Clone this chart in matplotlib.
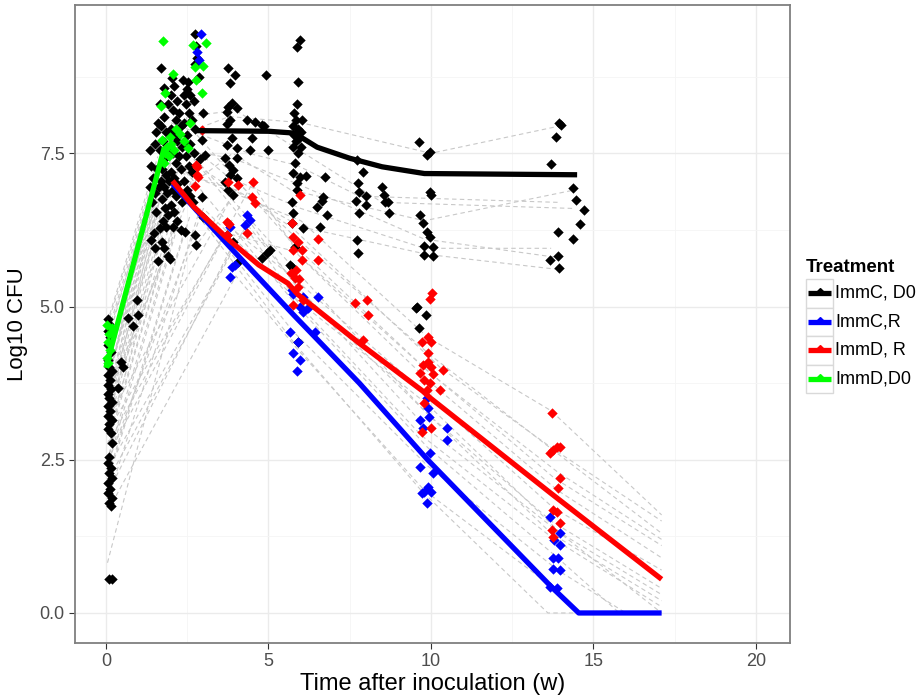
import matplotlib.pyplot as plt
from matplotlib.lines import Line2D
from matplotlib.patches import Rectangle

plt.rcParams['font.family'] = ['Liberation Sans', 'DejaVu Sans']

# --- observed points (time in weeks, log10 CFU) ---
immc_d0_pts = [
    # week 0
    (0.05, 4.8), (0.1, 4.72), (0.05, 4.6), (0.12, 4.5), (0.08, 4.38), (0.15, 4.25), (0.05, 4.12),
    (0.1, 4.02), (0.2, 3.95), (0.05, 3.88), (0.12, 3.8), (0.08, 3.72), (0.15, 3.65), (0.05, 3.58),
    (0.1, 3.5), (0.18, 3.45), (0.05, 3.38), (0.12, 3.3), (0.08, 3.22), (0.2, 3.15), (0.1, 3.08),
    (0.05, 3.0), (0.15, 2.93), (0.2, 2.78), (0.1, 2.55), (0.05, 2.45), (0.15, 2.37), (0.1, 2.28),
    (0.2, 2.2), (0.05, 2.12), (0.12, 2.03), (0.08, 1.95), (0.2, 1.88), (0.1, 1.8), (0.15, 1.74),
    (0.1, 0.55), (0.2, 0.55),
    (0.52, 4.01), (0.37, 3.67), (0.95, 5.1), (0.68, 4.81), (1.0, 4.86), (0.83, 4.68), (0.45, 4.1),
    # weeks 1.3 - 3
    (1.35, 7.55), (1.4, 7.3), (1.45, 7.1), (1.35, 6.95), (1.5, 6.85), (1.42, 6.7), (1.55, 6.55),
    (1.48, 6.2), (1.38, 6.08), (1.52, 5.95), (1.6, 5.75), (1.55, 7.85), (1.6, 8.0), (1.5, 7.65),
    (1.58, 7.25), (1.62, 6.95),
    (1.7, 8.9), (1.8, 8.56), (1.65, 8.3), (1.8, 8.1), (1.7, 7.95), (1.85, 7.85), (1.75, 7.7),
    (1.68, 7.55), (1.8, 7.4), (1.72, 7.25), (1.85, 7.15), (1.7, 7.05), (1.78, 6.95), (1.88, 6.85),
    (1.72, 6.75), (1.82, 6.6), (1.9, 6.5), (1.75, 6.4), (1.85, 6.3), (1.72, 6.05), (1.8, 5.95),
    (1.9, 5.82), (1.97, 5.78), (1.66, 6.28),
    (2.03, 8.73), (2.0, 8.45), (2.1, 8.6), (2.2, 8.35), (2.05, 8.2), (2.15, 8.05), (2.25, 8.15),
    (2.0, 7.9), (2.1, 7.8), (2.2, 7.7), (2.3, 7.95), (2.05, 7.5), (2.15, 7.35), (2.25, 7.45),
    (2.0, 7.2), (2.1, 7.1), (2.2, 7.0), (2.05, 6.9), (2.15, 6.8), (2.0, 6.65), (2.1, 6.55),
    (2.2, 6.4), (2.05, 6.3), (2.3, 6.25), (2.37, 8.69), (2.52, 8.66),
    (2.5, 8.55), (2.6, 8.45), (2.45, 8.3), (2.7, 8.35), (2.55, 8.15), (2.65, 8.05), (2.4, 8.0),
    (2.75, 7.9), (2.5, 7.8), (2.6, 7.65), (2.7, 7.5), (2.45, 7.45), (2.55, 7.3), (2.65, 7.2),
    (2.4, 7.05), (2.5, 6.9), (2.6, 6.8), (2.43, 6.22), (2.74, 6.17), (2.77, 6.0), (2.74, 9.44),
    (2.77, 9.25), (2.8, 9.05), (2.74, 8.95), (2.85, 8.75), (2.9, 7.4), (2.95, 7.72), (2.98, 8.15),
    (3.05, 7.47), (2.95, 6.79), (2.68, 6.7), (2.98, 6.46),
    (1.95, 7.6), (2.35, 7.6), (2.3, 7.25), (1.95, 7.05), (2.35, 6.7), (1.9, 8.3), (2.4, 8.45),
    # weeks 3.5 - 5
    (3.75, 8.9), (3.97, 8.78), (3.82, 8.64), (4.92, 8.78), (3.88, 8.32), (3.75, 8.25), (4.02, 8.24),
    (3.72, 8.17), (3.82, 8.04), (4.33, 8.04), (4.58, 8.01), (4.8, 7.96), (3.72, 7.98), (3.88, 7.75),
    (4.49, 7.75), (3.72, 7.63), (4.02, 7.58), (4.43, 7.55), (4.98, 7.55), (3.66, 7.42), (4.02, 7.42),
    (3.78, 7.31), (3.9, 7.23), (3.82, 7.14), (4.02, 7.1), (3.66, 7.03), (3.75, 6.9), (3.9, 6.82),
    (3.72, 6.17), (3.9, 6.05), (4.06, 5.73), (5.05, 5.92), (4.95, 5.87), (4.8, 5.79), (4.86, 7.94),
    # weeks 5.6 - 7
    (5.97, 9.35), (5.88, 9.23), (5.91, 8.66), (5.88, 8.3), (5.8, 8.15), (5.85, 8.05), (6.03, 8.04),
    (5.75, 7.95), (5.9, 7.9), (6.0, 7.85), (5.8, 7.8), (5.95, 7.75), (5.85, 7.7), (5.75, 7.6),
    (6.0, 7.6), (5.9, 7.5), (5.82, 7.34), (5.75, 7.18), (5.97, 7.11), (5.88, 7.01), (5.88, 6.9),
    (5.72, 6.7), (5.75, 6.53), (5.72, 6.36), (6.06, 6.28), (5.82, 5.97), (5.72, 5.65), (5.66, 5.68),
    (5.9, 4.42), (6.15, 7.13),
    (6.74, 7.11), (6.68, 6.79), (6.49, 6.62), (6.8, 6.49), (6.65, 6.73), (6.6, 6.3),
    # weeks 7.5 - 9
    (7.72, 7.39), (7.9, 7.2), (7.75, 7.02), (7.8, 6.87), (8.0, 6.8), (7.7, 6.73), (8.0, 6.66),
    (7.8, 6.52), (7.72, 6.08), (7.75, 5.87), (8.5, 6.95), (8.55, 6.82), (8.67, 6.71), (8.7, 6.52),
    (8.6, 6.71),
    # week 10
    (9.63, 7.69), (9.87, 7.47), (9.97, 7.52), (9.97, 6.87), (10.0, 6.82), (9.66, 6.5), (9.76, 6.37),
    (9.87, 6.22), (9.97, 6.14), (9.8, 5.98), (10.05, 5.97), (9.8, 5.84), (10.05, 5.82),
    (9.57, 5.0), (9.55, 4.97), (9.85, 4.86), (9.63, 4.65),
    # week 14
    (13.85, 7.77), (13.95, 8.0), (14.0, 7.97), (13.7, 7.32), (14.37, 6.94), (14.46, 6.74),
    (14.7, 6.57), (14.6, 6.35), (14.37, 6.1), (13.9, 6.21), (13.66, 5.76), (13.9, 5.82), (13.95, 5.63),
]

immc_r_pts = [
    (2.92, 9.44), (2.8, 9.15), (2.86, 9.02),
    (4.33, 6.49), (4.43, 6.41), (4.28, 6.33), (3.82, 6.3), (3.88, 5.65), (3.82, 5.49), (3.97, 5.68),
    (5.72, 5.27), (6.06, 5.16), (5.75, 5.2), (5.97, 5.0), (6.22, 4.97), (6.52, 5.16), (5.66, 4.58),
    (5.9, 4.42), (5.75, 4.24), (5.97, 4.13), (5.88, 3.95), (6.43, 4.58), (6.06, 4.91),
    (9.66, 3.15), (9.76, 3.02), (9.9, 3.34), (9.94, 3.2), (10.5, 3.02), (10.5, 2.82), (9.97, 2.61),
    (9.66, 2.38), (10.05, 2.28), (9.9, 2.06), (9.8, 1.97), (9.72, 1.96), (10.0, 1.97), (9.87, 1.79),
    (9.87, 3.5),
    (13.66, 1.57), (13.97, 1.3), (13.97, 1.11), (13.76, 0.9), (13.9, 0.9), (13.76, 0.72),
    (13.97, 0.7), (13.66, 0.43), (13.88, 0.41), (13.8, 1.19),
]

immd_r_pts = [
    (2.95, 7.88), (2.77, 7.31), (2.83, 7.11), (2.74, 6.97), (2.8, 7.28), (2.8, 7.15),
    (3.75, 7.03), (4.06, 6.98), (4.52, 7.03), (4.49, 6.79), (4.58, 6.69), (4.33, 6.2), (3.72, 6.38),
    (3.8, 6.35), (3.72, 6.17),
    (5.97, 6.82), (5.72, 6.36), (5.75, 6.14), (5.9, 6.05), (5.75, 5.92), (6.03, 5.92), (6.52, 6.11),
    (6.52, 5.76), (6.03, 5.76), (5.82, 5.47), (5.95, 5.45), (5.9, 5.32), (6.06, 5.1), (5.75, 5.02),
    (5.85, 5.6), (5.7, 5.55),
    (7.66, 5.06), (8.03, 5.1), (8.06, 4.86), (7.9, 4.45), (10.03, 5.22), (9.97, 5.13),
    (9.72, 4.42), (9.9, 4.5), (10.0, 4.42), (9.9, 4.24), (9.9, 4.1), (9.75, 4.05), (10.0, 4.02),
    (10.37, 3.97), (9.66, 3.92), (10.05, 3.9), (9.8, 3.8), (9.97, 3.75), (10.28, 3.64), (9.87, 3.64),
    (9.8, 3.42), (10.0, 3.02), (9.72, 2.95),
    (13.72, 3.26), (13.66, 2.61), (13.76, 2.66), (13.88, 2.71), (13.97, 2.71), (13.97, 2.2),
    (13.9, 2.04), (13.76, 1.68), (13.88, 1.65), (13.97, 1.47), (13.72, 1.35), (13.76, 1.24),
]

immd_d0_pts = [
    (0.03, 4.7), (0.18, 4.65), (0.06, 4.42), (0.12, 4.29), (0.03, 4.16), (0.06, 4.08), (0.1, 4.55),
    (1.75, 9.33), (2.68, 9.27), (3.08, 9.3), (2.74, 8.91), (2.98, 8.93), (2.06, 8.79), (2.77, 8.7),
    (2.95, 8.48), (1.82, 8.48), (1.69, 8.27), (2.58, 7.99), (2.52, 7.58), (1.97, 7.77), (1.88, 7.6),
    (1.82, 7.5), (2.28, 7.82), (1.72, 7.72), (2.0, 7.65), (2.1, 7.55), (1.95, 7.45), (2.15, 7.9),
    (1.8, 7.35), (2.4, 7.7),
]

# --- model fits per treatment ---
fit_immc_d0 = [(2.8, 7.87), (5.0, 7.86), (5.8, 7.83), (6.5, 7.6), (7.5, 7.42), (8.5, 7.28),
               (9.8, 7.17), (14.5, 7.15)]
fit_immc_r = [(2.05, 7.0), (3.8, 5.98), (5.8, 4.85), (7.8, 3.75), (9.9, 2.5), (13.7, 0.43),
              (14.55, 0.0), (17.1, 0.0)]
fit_immd_r = [(2.05, 7.05), (2.7, 6.63), (3.8, 6.08), (4.7, 5.68), (5.6, 5.38), (5.9, 5.2),
              (7.8, 4.4), (9.75, 3.62), (10.0, 3.5), (13.7, 1.95), (17.1, 0.55)]
fit_immd_d0 = [(0.0, 4.0), (1.8, 7.6)]

# --- individual animal trajectories (dashed grey) ---
subjects = [
    [(0.05, 4.7), (1.75, 7.6)], [(0.1, 4.65), (1.85, 7.75)], [(0.05, 4.42), (1.9, 7.85)],
    [(0.1, 4.29), (1.8, 7.45)], [(0.05, 4.16), (1.7, 7.3)], [(0.08, 4.08), (1.75, 7.2)],
    [(0.05, 4.0), (1.6, 7.0)], [(0.1, 3.9), (1.65, 6.95)], [(0.05, 3.8), (1.7, 6.8)],
    [(0.1, 3.6), (1.6, 6.5)], [(0.05, 3.45), (1.75, 6.6)], [(0.12, 3.3), (1.9, 6.7)],
    [(0.05, 3.15), (1.8, 6.3)], [(0.1, 3.0), (2.0, 6.4)], [(0.05, 4.5), (1.5, 7.0)],
    [(0.1, 4.3), (1.55, 7.2)], [(0.05, 4.75), (1.6, 7.45)], [(0.15, 4.0), (2.1, 7.9)],
    [(0.05, 3.7), (1.45, 6.9)], [(0.1, 3.85), (1.5, 7.1)], [(0.08, 3.55), (1.55, 6.75)],
    [(0.12, 3.4), (1.6, 6.6)], [(0.05, 3.25), (1.7, 6.5)], [(0.1, 2.9), (1.75, 6.2)],
    [(0.05, 2.75), (1.9, 6.0)], [(0.1, 2.6), (2.05, 6.1)], [(0.08, 2.45), (2.2, 6.3)],
    [(0.1, 2.3), (2.4, 6.2)], [(0.05, 2.15), (2.6, 6.5)], [(0.12, 1.95), (2.9, 6.6)],
    [(0.05, 0.82), (2.5, 5.8), (3.9, 6.8)],
    [(0.2, 1.8), (4.0, 5.5), (5.9, 4.3), (9.8, 2.0), (13.8, 0.4), (14.6, 0.0)],
    [(0.1, 2.0), (3.8, 5.9), (5.75, 4.6), (9.9, 2.4), (13.9, 0.7), (16.0, 0.0)],
    [(0.1, 2.2), (4.3, 6.3), (6.0, 5.0), (9.7, 2.9), (13.8, 1.2), (17.1, 0.1)],
    [(0.1, 2.4), (4.4, 6.4), (5.9, 5.3), (10.0, 3.2), (13.7, 1.5), (17.1, 0.4)],
    [(0.1, 2.6), (3.8, 6.3), (5.7, 5.5), (9.8, 3.6), (13.8, 1.7), (17.1, 0.7)],
    [(0.1, 2.8), (4.5, 7.0), (6.0, 5.8), (9.9, 3.8), (13.9, 2.0), (17.1, 0.9)],
    [(0.1, 3.0), (3.7, 6.2), (5.8, 5.9), (9.8, 4.0), (13.8, 2.2), (17.1, 1.1)],
    [(0.1, 3.2), (4.1, 7.0), (5.9, 6.1), (10.0, 4.2), (13.9, 2.6), (17.1, 1.3)],
    [(0.1, 3.4), (2.8, 7.3), (5.7, 6.3), (10.3, 4.0), (13.7, 2.7), (17.1, 1.5)],
    [(0.1, 3.6), (2.8, 7.1), (6.0, 6.4), (9.9, 4.5), (13.7, 3.3), (17.1, 1.6)],
    [(0.1, 2.5), (3.0, 6.6), (5.9, 5.1), (9.9, 3.4), (14.0, 1.3), (17.1, 0.3)],
    [(2.1, 7.0), (5.8, 4.4), (9.7, 2.0), (13.6, 0.0), (14.6, 0.0)],
    [(2.3, 7.3), (5.9, 5.0), (9.9, 2.7), (13.9, 0.9), (15.8, 0.0)],
    [(2.6, 7.5), (6.0, 5.5), (9.8, 3.3), (13.7, 1.3), (17.1, 0.2)],
    [(2.8, 7.8), (5.8, 6.0), (10.0, 3.9), (13.9, 2.3), (17.1, 1.2)],
    [(2.4, 7.6), (6.1, 5.2), (9.9, 3.0), (17.1, 0.0)],
    [(0.1, 3.9), (2.1, 7.6), (4.0, 7.4), (5.9, 7.0), (9.8, 6.1), (13.9, 5.8)],
    [(0.1, 3.7), (2.2, 7.8), (3.8, 7.1), (6.0, 6.6), (9.8, 5.95), (13.7, 5.95)],
    [(0.1, 4.2), (2.0, 8.0), (4.4, 7.5), (5.9, 7.3), (7.8, 6.8), (13.9, 6.7)],
    [(0.1, 3.5), (2.5, 8.1), (4.0, 8.2), (5.8, 7.6), (8.5, 6.7), (14.4, 6.6)],
    [(0.1, 4.4), (2.3, 7.8), (3.8, 8.1), (6.0, 8.0), (10.0, 7.5), (14.0, 7.95)],
    [(0.1, 2.9), (2.4, 6.9), (3.9, 7.5), (5.7, 6.9), (9.8, 6.4), (14.4, 6.9)],
    [(0.1, 3.1), (2.2, 7.2), (4.0, 6.9), (6.0, 6.3), (9.9, 5.85), (14.0, 5.6)],
]

groups = ['ImmC, D0', 'ImmC,R', 'ImmD, R', 'ImmD,D0']
colors = ['#000000', '#0000FF', '#FF0000', '#00FF00']
point_sets = [immc_d0_pts, immc_r_pts, immd_r_pts, immd_d0_pts]
fit_sets = [fit_immc_d0, fit_immc_r, fit_immd_r, fit_immd_d0]

W, H = 923, 697
fig = plt.figure(figsize=(W / 100, H / 100), dpi=100)
ax = fig.add_axes([75 / W, 1 - 643 / H, 715 / W, 638 / H])

for s in subjects:
    tx, ty = zip(*s)
    ax.plot(tx, ty, color='#C8C8C8', lw=0.8, dashes=(4, 3), zorder=1)

for pts, c in zip(point_sets, colors):
    px, py = zip(*pts)
    ax.scatter(px, py, marker='D', s=28, color=c, linewidths=0, zorder=3)

for fit, c in zip(fit_sets, colors):
    fx, fy = zip(*fit)
    ax.plot(fx, fy, color=c, lw=3.8, solid_capstyle='butt', zorder=4)

ax.set_xlim(-0.95, 21.05)
ax.set_ylim(-0.49, 9.92)
ax.set_xticks([0, 5, 10, 15, 20])
ax.set_yticks([0, 2.5, 5.0, 7.5])
ax.set_yticklabels(['0.0', '2.5', '5.0', '7.5'])
ax.set_xticks([2.5, 7.5, 12.5, 17.5], minor=True)
ax.set_yticks([1.25, 3.75, 6.25, 8.75], minor=True)
ax.grid(which='major', color='#EBEBEB', lw=1.0, zorder=0)
ax.grid(which='minor', color='#F5F5F5', lw=0.6, zorder=0)
ax.set_axisbelow(True)
ax.tick_params(which='major', length=4, color='#333333', labelcolor='#4D4D4D', labelsize=13)
ax.tick_params(which='minor', length=0)
for sp in ax.spines.values():
    sp.set_color('#7F7F7F')
    sp.set_linewidth(1.3)

ax.set_xlabel('Time after inoculation (w)', fontsize=17, labelpad=2)
ax.set_ylabel('Log10 CFU', fontsize=16, labelpad=8)

# legend
fig.text(806 / W, 1 - 267 / H, 'Treatment', fontsize=13.5, fontweight='bold', va='center', ha='left')
for i, (g, c) in enumerate(zip(groups, colors)):
    top = 279 + 28.5 * i
    fig.patches.append(Rectangle((806 / W, 1 - (top + 28.5) / H), 27 / W, 28.5 / H,
                                 transform=fig.transFigure, facecolor='white',
                                 edgecolor='#D9D9D9', lw=1.0))
    yc = 1 - (top + 14.25) / H
    fig.lines.append(Line2D([808 / W, 831 / W], [yc, yc], transform=fig.transFigure,
                            color=c, lw=3.8, solid_capstyle='butt'))
    fig.lines.append(Line2D([819.5 / W], [yc + 2 / H], transform=fig.transFigure,
                            color=c, marker='D', markersize=3, lw=0))
    fig.text(835 / W, yc, g, fontsize=13, va='center', ha='left')

fig.savefig('out.png', dpi=100)
